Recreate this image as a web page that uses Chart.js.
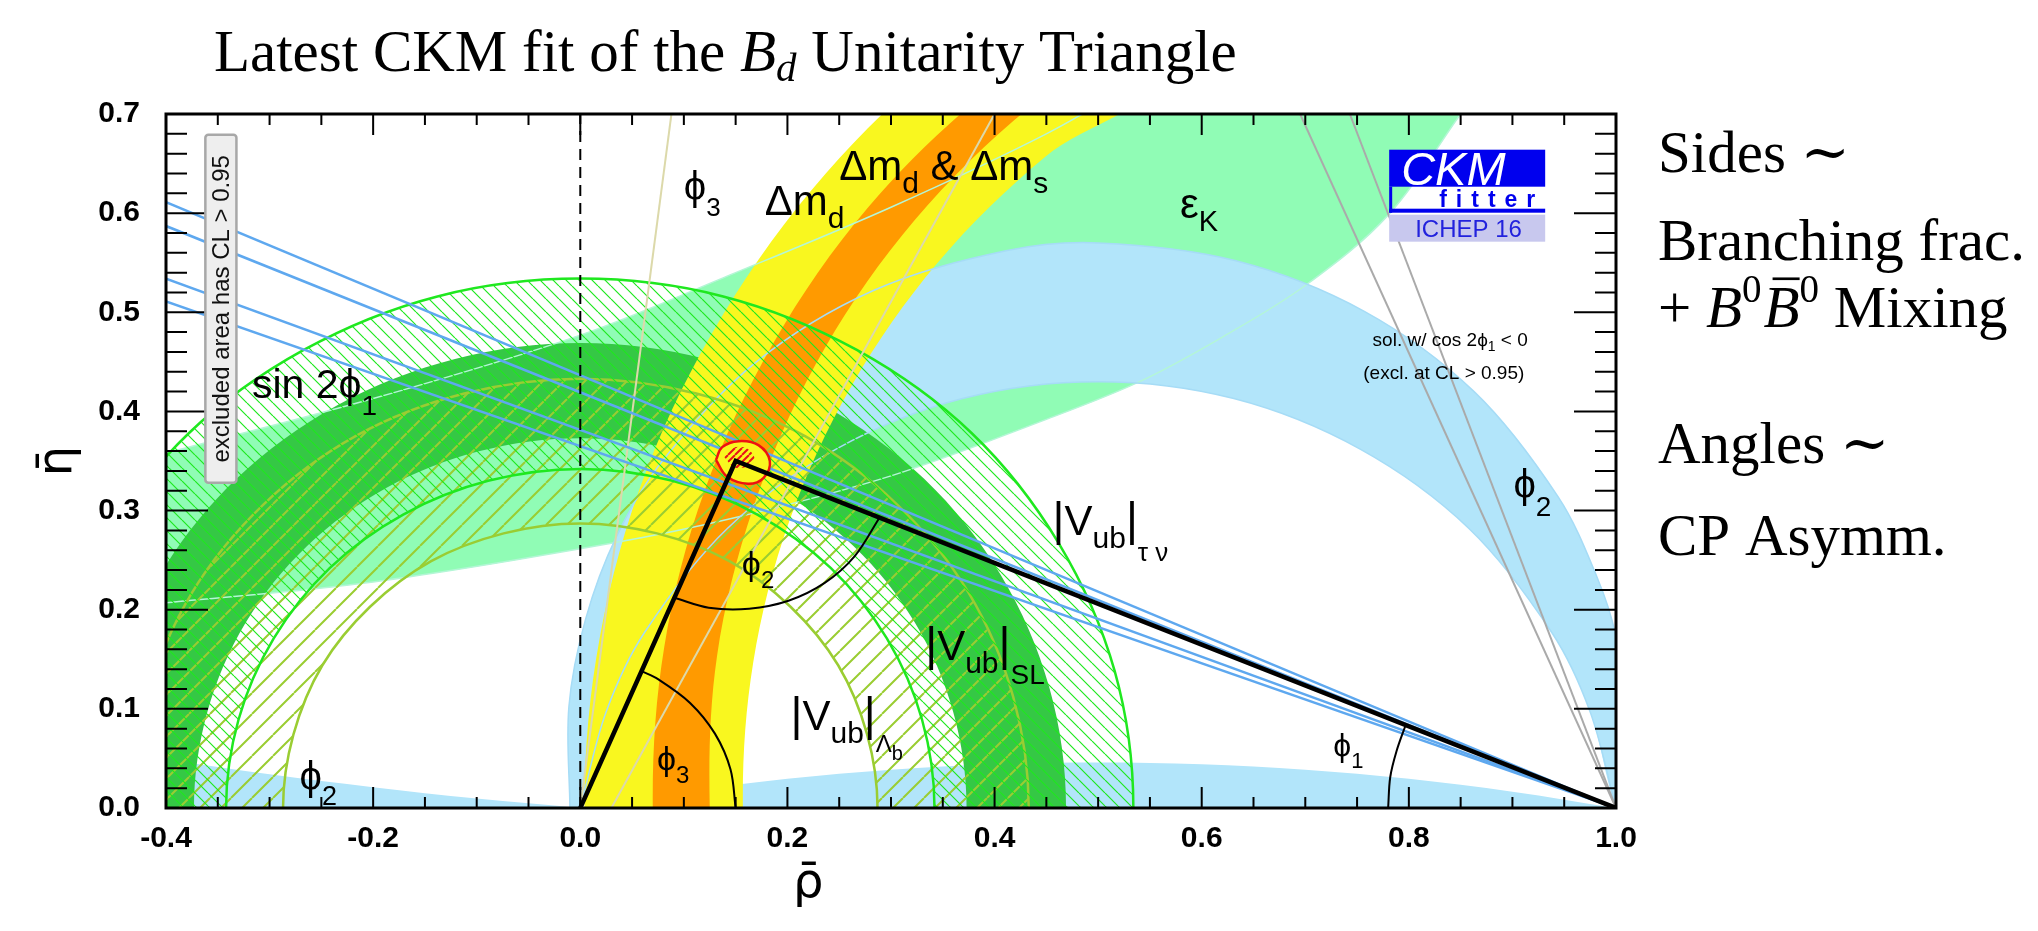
<!DOCTYPE html>
<html>
<head>
<meta charset="utf-8">
<script src="https://cdn.jsdelivr.net/npm/chart.js@4.4.1/dist/chart.umd.min.js"></script>
<style>
  html, body { margin: 0; padding: 0; background: #fff; }
  #wrap { width: 2038px; height: 931px; position: relative; }
</style>
</head>
<body>
<div id="wrap"><canvas id="ckm"></canvas></div>
<script>
// axis ticks
const rhoTicks = [-0.4, -0.2, 0.0, 0.2, 0.4, 0.6, 0.8, 1.0];
const etaTicks = [0.0, 0.1, 0.2, 0.3, 0.4, 0.5, 0.6, 0.7];

// eps_K band (rho, eta)
const epsKUpper = [[-0.45,0.344],[-0.4,0.358],[-0.2,0.413],[0.0,0.477],[0.15,0.540],[0.3,0.606],[0.45,0.680],[0.55,0.740]];
const epsKLower = [[0.92,0.800],[0.85,0.700],[0.78,0.598],[0.70,0.527],[0.62,0.475],[0.54,0.430],[0.45,0.392],[0.30,0.335],[0.15,0.293],[0.03,0.267],[-0.2,0.228],[-0.4,0.207],[-0.45,0.202]];

// phi2 (alpha) regions
const alphaOuter = [[-0.010,0.000],[-0.011,0.102],[0.005,0.190],[0.035,0.274],[0.080,0.351],[0.170,0.450],[0.283,0.522],[0.411,0.562],[0.500,0.570],[0.633,0.552],[0.757,0.501],[0.863,0.420],[0.944,0.314],[0.982,0.232],[1.000,0.172],[1.013,0.057],[1.010,0.000]];
const alphaInner = [[1.000,0.000],[0.975,0.097],[0.938,0.177],[0.858,0.282],[0.753,0.362],[0.631,0.413],[0.500,0.430],[0.369,0.413],[0.247,0.362],[0.142,0.282],[0.062,0.177],[0.025,0.097],[0.000,0.000]];
const alphaLowLeft = [[-0.45,0.057],[-0.4,0.049],[-0.3,0.034],[-0.2,0.021],[-0.1,0.0095],[0.0,0.0]];
const alphaLowRight = [[0.0,0.0],[0.1,0.0165],[0.2,0.0294],[0.3,0.0386],[0.4,0.0441],[0.5,0.046],[0.6,0.0441],[0.7,0.0386],[0.8,0.0294],[0.9,0.0165],[1.0,0.0]];

// Delta m_d (yellow) and Delta m_d & Delta m_s (orange); outer edge bottom->top, inner edge top->bottom
const dmdOuter = [[0.019,-0.173],[0.004,0.000],[0.019,0.173],[0.064,0.341],[0.138,0.498],[0.237,0.640],[0.360,0.763],[0.502,0.863]];
const dmdInner = [[0.570,0.745],[0.449,0.657],[0.345,0.550],[0.262,0.426],[0.202,0.290],[0.167,0.147],[0.157,0.000],[0.170,-0.146]];
const dmsOuter = [[0.084,-0.162],[0.070,0.000],[0.081,0.162],[0.120,0.320],[0.187,0.470],[0.278,0.606],[0.393,0.723],[0.527,0.820]];
const dmsInner = [[0.545,0.789],[0.418,0.693],[0.311,0.578],[0.227,0.447],[0.167,0.303],[0.132,0.153],[0.125,0.000],[0.138,-0.152]];

// |Vub| rings around the origin (both edges in the same angular order)
const vubSLOuter = [[0.453,-0.121],[0.469,0],[0.453,0.121],[0.406,0.235],[0.332,0.332],[0.235,0.406],[0.121,0.453],[0,0.469],[-0.121,0.453],[-0.235,0.406],[-0.332,0.332],[-0.406,0.235],[-0.453,0.121],[-0.469,0],[-0.453,-0.121]];
const vubSLInner = [[0.360,-0.097],[0.373,0],[0.360,0.097],[0.323,0.187],[0.264,0.264],[0.187,0.323],[0.097,0.360],[0,0.373],[-0.097,0.360],[-0.187,0.323],[-0.264,0.264],[-0.323,0.187],[-0.360,0.097],[-0.373,0],[-0.360,-0.097]];
const vubTauOuter = [[0.516,-0.138],[0.534,0],[0.516,0.138],[0.462,0.267],[0.378,0.378],[0.267,0.462],[0.138,0.516],[0,0.534],[-0.138,0.516],[-0.267,0.462],[-0.378,0.378],[-0.462,0.267],[-0.516,0.138],[-0.534,0],[-0.516,-0.138]];
const vubTauInner = [[0.330,-0.089],[0.342,0],[0.330,0.089],[0.296,0.171],[0.242,0.242],[0.171,0.296],[0.089,0.330],[0,0.342],[-0.089,0.330],[-0.171,0.296],[-0.242,0.242],[-0.296,0.171],[-0.330,0.089],[-0.342,0],[-0.330,-0.089]];
const vubLbOuter = [[0.418,-0.112],[0.433,0],[0.418,0.112],[0.375,0.217],[0.306,0.306],[0.217,0.375],[0.112,0.418],[0,0.433],[-0.112,0.418],[-0.217,0.375],[-0.306,0.306],[-0.375,0.217],[-0.418,0.112],[-0.433,0],[-0.418,-0.112]];
const vubLbInner = [[0.277,-0.074],[0.287,0],[0.277,0.074],[0.249,0.144],[0.203,0.203],[0.144,0.249],[0.074,0.277],[0,0.287],[-0.074,0.277],[-0.144,0.249],[-0.203,0.203],[-0.249,0.144],[-0.277,0.074],[-0.287,0],[-0.277,-0.074]];

// straight constraints
const sin2bLeftEta = [0.611, 0.587, 0.534, 0.511];   // lines from rho=-0.4 to (1,0)
const phi3Lines = [[[0,0],[0.088,0.7]], [[0.03,0],[0.40,0.7]]];
const cos2bLines = [[[0.695,0.7],[1,0]], [[0.743,0.7],[1,0]]];

// fitted triangle, CL contour, angle arcs
const triangle = [[0,0],[0.150,0.350],[1,0]];
const fitContour = [[0.131,0.351],[0.137,0.364],[0.153,0.370],[0.172,0.366],[0.183,0.350],[0.177,0.333],[0.162,0.327],[0.142,0.334],[0.131,0.351]];
const fitCore = [[0.139,0.354],[0.145,0.362],[0.156,0.364],[0.165,0.359],[0.168,0.350],[0.160,0.344],[0.148,0.344],[0.139,0.354]];
const arcPhi2 = [[0.091,0.212],[0.124,0.202],[0.163,0.201],[0.201,0.209],[0.236,0.227],[0.265,0.254],[0.289,0.293]];
const arcPhi3 = [[0.150,0],[0.145,0.039],[0.130,0.075],[0.106,0.106],[0.075,0.130],[0.059,0.138]];
const arcPhi1 = [[0.780,0],[0.782,0.031],[0.788,0.057],[0.797,0.084]];

const SANS = '"Liberation Sans", "DejaVu Sans", sans-serif';
const SERIF = '"Liberation Serif", "DejaVu Serif", serif';

function pts(arr) { return arr.map(p => ({ x: p[0], y: p[1] })); }
function ring(outer, inner) { return outer.concat(inner.slice().reverse(), [outer[0]]); }
function band(a, b) { return a.concat(b, [a[0]]); }

function hatch(color, step, width, rising) {
  const c = document.createElement('canvas');
  c.width = c.height = step;
  const g = c.getContext('2d');
  g.strokeStyle = color; g.lineWidth = width;
  g.beginPath();
  for (let k = -1; k <= 1; k++) {
    if (rising) { g.moveTo(k * step, step); g.lineTo(k * step + step, 0); }
    else { g.moveTo(k * step, 0); g.lineTo(k * step + step, step); }
  }
  g.stroke();
  return g.createPattern(c, 'repeat');
}

const NONE = 'rgba(0,0,0,0)';
function ds(arr, o) {
  return Object.assign({ data: pts(arr), showLine: true, pointRadius: 0, borderColor: NONE,
    borderWidth: 1, fill: false, tension: 0, clip: 0 }, o);
}

const datasets = [
  ds(triangle, { borderColor: '#000', borderWidth: 4.5, order: 5, borderJoinStyle: 'miter' }),
  ds(arcPhi2, { borderColor: '#000', borderWidth: 2, tension: 0.34, order: 10 }),
  ds(arcPhi3, { borderColor: '#000', borderWidth: 2, tension: 0.34, order: 10 }),
  ds(arcPhi1, { borderColor: '#000', borderWidth: 2, tension: 0.34, order: 10 }),
  ds(fitCore, { fill: 'shape', backgroundColor: hatch('#e8101a', 7, 2, true), tension: 0.4, order: 19 }),
  ds(fitContour, { fill: 'shape', backgroundColor: '#f9f71f', borderColor: '#ee1111', borderWidth: 2.5, tension: 0.4, order: 20 }),
  ds([[0,0],[0,0.7]], { borderColor: '#000', borderWidth: 2, borderDash: [11, 7], order: 30 }),
  ...sin2bLeftEta.map(e => ds([[-0.4, e], [1, 0]], { borderColor: '#5ea8ef', borderWidth: 2.5, order: 35 })),
  ...cos2bLines.map(l => ds(l, { borderColor: '#aaaaaa', borderWidth: 2, order: 40 })),
  ...phi3Lines.map(l => ds(l, { borderColor: '#dcd9aa', borderWidth: 2, order: 40 })),
  ds(ring(vubTauOuter, vubTauInner), { fill: 'shape', backgroundColor: hatch('#1fe81f', 13, 1.2, false), borderColor: '#1fe81f', borderWidth: 2.5, tension: 0.34, order: 45 }),
  ds(ring(vubLbOuter, vubLbInner), { fill: 'shape', backgroundColor: hatch('#9acd32', 21, 2, true), borderColor: '#9acd32', borderWidth: 2.5, tension: 0.34, order: 50 }),
  ds(alphaOuter, { borderColor: '#a6dcf6', borderWidth: 1.5, tension: 0.34, order: 55 }),
  ds(alphaInner, { borderColor: '#a6dcf6', borderWidth: 1.5, tension: 0.34, order: 55 }),
  ds(epsKUpper, { borderColor: '#b4f6d6', borderWidth: 1.5, tension: 0.34, order: 55 }),
  ds(epsKLower, { borderColor: '#b4f6d6', borderWidth: 1.5, tension: 0.34, order: 55 }),
  ds(band(dmsOuter, dmsInner), { fill: 'shape', backgroundColor: '#ff9a00', tension: 0.34, order: 60 }),
  ds(band(dmdOuter, dmdInner), { fill: 'shape', backgroundColor: '#f9f71f', tension: 0.34, order: 70 }),
  ds(ring(vubSLOuter, vubSLInner), { fill: 'shape', backgroundColor: '#35c845', tension: 0.34, order: 80 }),
  ds(band(alphaOuter, alphaInner), { fill: 'shape', backgroundColor: '#b2e5fa', tension: 0.34, order: 90 }),
  ds(alphaLowLeft, { fill: 'origin', backgroundColor: '#b2e5fa', tension: 0.34, order: 90 }),
  ds(alphaLowRight, { fill: 'origin', backgroundColor: '#b2e5fa', tension: 0.34, order: 90 }),
  ds(band(epsKUpper, epsKLower), { fill: 'shape', backgroundColor: '#90fcb5', tension: 0.34, order: 100 })
];

// text labels on the plot, anchored at (rho, eta) of the baseline start
const sub = (t, s, dy) => ({ t, s, dy });
const plotLabels = [
  { at: [0.100, 0.613], parts: [{ t: 'ϕ', s: 40 }, sub('3', 26, 16)] },
  { at: [0.250, 0.633], parts: [{ t: 'Δm', s: 42 }, sub('d', 30, 13), { t: ' & Δm', s: 42 }, sub('s', 30, 13)] },
  { at: [0.178, 0.598], parts: [{ t: 'Δm', s: 42 }, sub('d', 30, 13)] },
  { at: [0.579, 0.595], parts: [{ t: 'ε', s: 42 }, sub('K', 29, 13)] },
  { at: [-0.317, 0.414], parts: [{ t: 'sin 2ϕ', s: 41 }, sub('1', 28, 17)] },
  { at: [0.156, 0.235], parts: [{ t: 'ϕ', s: 34 }, sub('2', 24, 13)] },
  { at: [0.456, 0.275], parts: [{ t: '|', s: 46 }, { t: 'V', s: 42 }, sub('ub', 30, 13), { t: '|', s: 46 }, sub('τ ν', 26, 26)] },
  { at: [0.333, 0.149], parts: [{ t: '|', s: 46 }, { t: 'V', s: 42 }, sub('ub', 30, 13), { t: '|', s: 46 }, sub('SL', 28, 24)] },
  { at: [0.203, 0.079], parts: [{ t: '|', s: 46 }, { t: 'V', s: 42 }, sub('ub', 30, 13), { t: '|', s: 46 }, sub('Λ', 24, 22), sub('b', 20, 30)] },
  { at: [0.074, 0.038], parts: [{ t: 'ϕ', s: 34 }, sub('3', 24, 13)] },
  { at: [-0.271, 0.018], parts: [{ t: 'ϕ', s: 40 }, sub('2', 27, 15)] },
  { at: [0.727, 0.052], parts: [{ t: 'ϕ', s: 32 }, sub('1', 22, 12)] },
  { at: [0.901, 0.313], parts: [{ t: 'ϕ', s: 40 }, sub('2', 28, 18)] },
  { at: [0.765, 0.466], parts: [{ t: 'sol. w/ cos 2ϕ', s: 19 }, sub('1', 14, 5), { t: ' < 0', s: 19 }] },
  { at: [0.756, 0.433], parts: [{ t: '(excl. at CL > 0.95)', s: 19 }] }
];

function rich(ctx, x, y, parts, fam) {
  let cx = x;
  parts.forEach(p => {
    ctx.font = (p.it ? 'italic ' : '') + (p.b ? 'bold ' : '') + p.s + 'px ' + (p.f || fam);
    ctx.fillText(p.t, cx, y + (p.dy || 0));
    const w = ctx.measureText(p.t).width;
    if (p.bar) ctx.fillRect(cx + w * 0.25, y + (p.dy || 0) - p.s * 0.84, w * 0.75, Math.max(2, p.s * 0.045));
    cx += w + (p.gap || 0);
  });
}

const ckmDecor = {
  id: 'ckmDecor',
  afterDatasetsDraw(chart) {
    const { ctx, chartArea: a, scales: { x, y } } = chart;
    ctx.save();
    // inward ticks on all four sides
    ctx.strokeStyle = '#000';
    ctx.lineWidth = 2;
    ctx.beginPath();
    for (let i = 0; i <= 28; i++) {
      const px = x.getPixelForValue(-0.4 + i * 0.05);
      const len = i % 4 === 0 ? 21 : 11;
      ctx.moveTo(px, a.bottom); ctx.lineTo(px, a.bottom - len);
      ctx.moveTo(px, a.top); ctx.lineTo(px, a.top + len);
    }
    for (let j = 0; j <= 35; j++) {
      const py = y.getPixelForValue(j * 0.02);
      const len = j % 5 === 0 ? 42 : 21;
      ctx.moveTo(a.left, py); ctx.lineTo(a.left + len, py);
      ctx.moveTo(a.right, py); ctx.lineTo(a.right - len, py);
    }
    ctx.stroke();
    ctx.lineWidth = 3;
    ctx.strokeRect(a.left, a.top, a.right - a.left, a.bottom - a.top);

    // labels
    ctx.fillStyle = '#000';
    ctx.textBaseline = 'alphabetic';
    ctx.textAlign = 'left';
    plotLabels.forEach(l => rich(ctx, x.getPixelForValue(l.at[0]), y.getPixelForValue(l.at[1]), l.parts, SANS));

    // "excluded area" box
    const bx0 = x.getPixelForValue(-0.362), bx1 = x.getPixelForValue(-0.332);
    const by0 = y.getPixelForValue(0.679), by1 = y.getPixelForValue(0.328);
    ctx.fillStyle = '#eeeeee';
    ctx.strokeStyle = '#a8a8a8';
    ctx.lineWidth = 2.5;
    ctx.beginPath();
    ctx.roundRect(bx0, by0, bx1 - bx0, by1 - by0, 3);
    ctx.fill(); ctx.stroke();
    ctx.save();
    ctx.translate((bx0 + bx1) / 2 + 8, (by0 + by1) / 2);
    ctx.rotate(-Math.PI / 2);
    ctx.fillStyle = '#111';
    ctx.font = '24px ' + SANS;
    ctx.textAlign = 'center';
    ctx.fillText('excluded area has CL > 0.95', 0, 0);
    ctx.restore();

    // CKMfitter logo
    const lx = x.getPixelForValue(0.781), ly = y.getPixelForValue(0.664);
    ctx.fillStyle = '#0000ee';
    ctx.fillRect(lx, ly, 156, 37);
    ctx.fillRect(lx, ly + 37, 3, 26);
    ctx.fillRect(lx, ly + 59, 156, 4);
    ctx.fillStyle = '#c8c8ee';
    ctx.fillRect(lx, ly + 65, 156, 27);
    ctx.fillStyle = '#fff';
    ctx.font = 'italic 47px ' + SANS;
    ctx.fillText('CKM', lx + 12, ly + 35);
    ctx.fillStyle = '#0000ee';
    ctx.font = 'bold 23px ' + SANS;
    let fx = lx + 50;
    'fitter'.split('').forEach(ch => { ctx.fillText(ch, fx, ly + 57); fx += ctx.measureText(ch).width + 9; });
    ctx.fillStyle = '#2222dd';
    ctx.font = '24px ' + SANS;
    ctx.fillText('ICHEP 16', lx + 26, ly + 87);

    // rho-bar axis title (sits left of centre in the original)
    ctx.fillStyle = '#000';
    ctx.font = '48px "DejaVu Sans", sans-serif';
    ctx.textAlign = 'center';
    ctx.fillText('ρ̄', x.getPixelForValue(0.22), a.bottom + 89);
    ctx.restore();
  },
  afterDraw(chart) {
    const { ctx, chartArea: a } = chart;
    ctx.save();
    ctx.fillStyle = '#000';
    ctx.textBaseline = 'alphabetic';
    ctx.textAlign = 'left';
    // title
    rich(ctx, a.left + 48, a.top - 43, [
      { t: 'Latest CKM fit of the ', s: 59 },
      { t: 'B', s: 59, it: true },
      { t: 'd', s: 41, it: true, dy: 10 },
      { t: ' Unitarity Triangle', s: 59 }
    ], SERIF);
    // side notes
    const rx = a.right + 42;
    rich(ctx, rx, a.top + 58, [{ t: 'Sides ∼', s: 59 }], SERIF);
    rich(ctx, rx, a.top + 146, [{ t: 'Branching frac.', s: 59 }], SERIF);
    rich(ctx, rx, a.top + 213, [
      { t: '+ ', s: 59 }, { t: 'B', s: 59, it: true }, { t: '0', s: 39, dy: -25, gap: 2 },
      { t: 'B', s: 59, it: true, bar: true }, { t: '0', s: 39, dy: -25 }, { t: ' Mixing', s: 59 }
    ], SERIF);
    rich(ctx, rx, a.top + 349, [{ t: 'Angles ∼', s: 59 }], SERIF);
    rich(ctx, rx, a.top + 441, [{ t: 'CP Asymm.', s: 59 }], SERIF);
    ctx.restore();
  }
};

const tickFont = { family: SANS, weight: 'bold', size: 30 };

new Chart(document.getElementById('ckm'), {
  type: 'scatter',
  data: { datasets },
  options: {
    responsive: true,
    maintainAspectRatio: false,
    animation: false,
    layout: { padding: { top: 114, right: 422, bottom: 0, left: 0 } },
    plugins: { legend: { display: false }, tooltip: { enabled: false }, title: { display: false } },
    elements: { point: { radius: 0 }, line: { capBezierPoints: false } },
    scales: {
      x: {
        type: 'linear', min: -0.4, max: 1.0,
        afterFit(s) { s.height = 123; },
        afterBuildTicks(s) { s.ticks = rhoTicks.map(v => ({ value: v })); },
        grid: { display: false, drawTicks: false },
        border: { display: false },
        ticks: { padding: 13, color: '#000', font: tickFont, maxRotation: 0, autoSkip: false,
          callback: v => v.toFixed(1) },
        title: { display: false }
      },
      y: {
        type: 'linear', min: 0, max: 0.7,
        afterFit(s) { s.width = 166; },
        afterBuildTicks(s) { s.ticks = etaTicks.map(v => ({ value: v })); },
        grid: { display: false, drawTicks: false },
        border: { display: false },
        ticks: { padding: 26, color: '#000', font: tickFont, autoSkip: false,
          callback: v => v.toFixed(1) },
        title: { display: true, text: 'η̄', color: '#000', font: { family: '"DejaVu Sans", sans-serif', size: 48 },
          padding: { top: 30, bottom: 0 } }
      }
    }
  },
  plugins: [ckmDecor]
});
</script>
</body>
</html>
